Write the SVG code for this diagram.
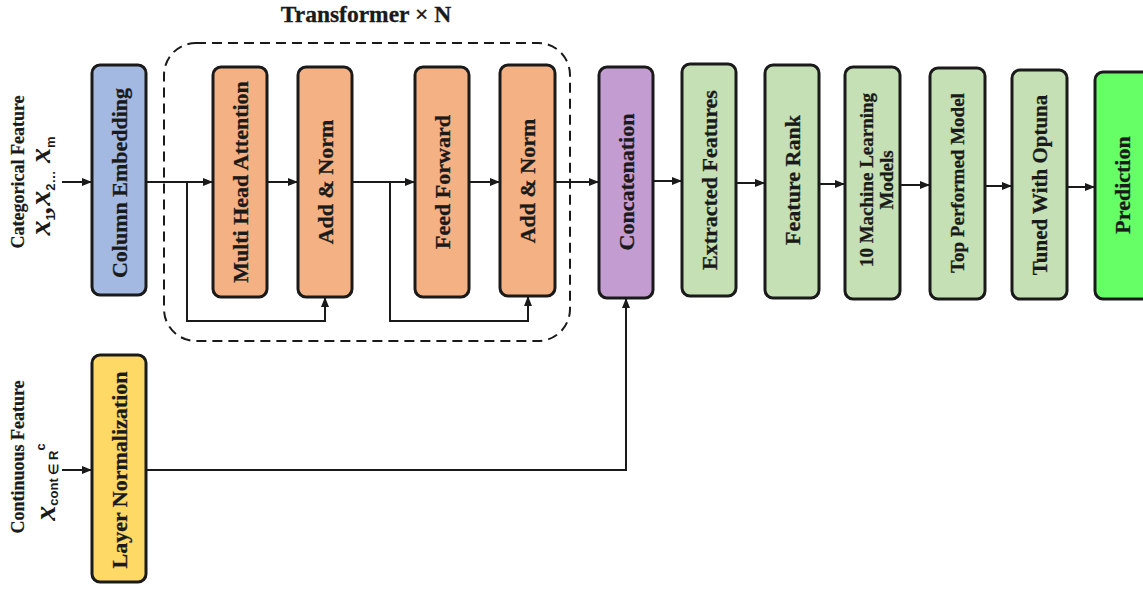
<svg xmlns="http://www.w3.org/2000/svg" width="1143" height="590" viewBox="0 0 1143 590">
<defs>
<style>
.box{stroke:#1a1a1a;stroke-width:3}
.blue{fill:#a3b9e2}.orange{fill:#f4b183}.purple{fill:#c39dd1}.green{fill:#c5e0b4}.yellow{fill:#ffd966}.bright{fill:#66ff66}
.t{font-family:"Liberation Serif","Times New Roman",serif;font-weight:bold;font-size:22px;fill:#1a1a1a;stroke:#1a1a1a;stroke-width:0.3;text-anchor:middle}
.lbl{font-family:"Liberation Serif","Times New Roman",serif;font-weight:bold;font-size:18px;fill:#1a1a1a;stroke:#1a1a1a;stroke-width:0.2;text-anchor:middle}
.mx{font-family:"Liberation Serif","Times New Roman",serif;font-weight:bold;font-style:italic;font-size:30px;fill:#1a1a1a}
.sb{font-family:"Liberation Sans",Arial,sans-serif;font-weight:bold;font-size:13px;fill:#1a1a1a;font-style:normal}
.ln{fill:none;stroke:#1a1a1a;stroke-width:2}
</style>
<marker id="ah" markerWidth="10" markerHeight="8" refX="9" refY="4" orient="auto" markerUnits="userSpaceOnUse">
<path d="M0,0 L10,4 L0,8 Z" fill="#1a1a1a"/>
</marker>
</defs>
<rect width="1143" height="590" fill="#ffffff"/>

<g id="transformer">
<rect x="164" y="43" width="406" height="298" rx="32" fill="none" stroke="#1a1a1a" stroke-width="2" stroke-dasharray="10 6"/>
<text x="366" y="22" class="t" style="font-size:23.5px">Transformer × N</text>
</g>

<g id="connectors">
<path class="ln" d="M62,182 H91" marker-end="url(#ah)"/>
<path class="ln" d="M62,470 H91" marker-end="url(#ah)"/>
<path class="ln" d="M146,182 H212" marker-end="url(#ah)"/>
<path class="ln" d="M187,182 V321 H325 V298" marker-end="url(#ah)"/>
<path class="ln" d="M267,182 H297" marker-end="url(#ah)"/>
<path class="ln" d="M352,182 H414" marker-end="url(#ah)"/>
<path class="ln" d="M390,182 V321 H528 V297" marker-end="url(#ah)"/>
<path class="ln" d="M469,182 H499" marker-end="url(#ah)"/>
<path class="ln" d="M555,182 H598" marker-end="url(#ah)"/>
<path class="ln" d="M653,181 H681" marker-end="url(#ah)"/>
<path class="ln" d="M736,183 H764" marker-end="url(#ah)"/>
<path class="ln" d="M819,184 H844" marker-end="url(#ah)"/>
<path class="ln" d="M900,185 H929" marker-end="url(#ah)"/>
<path class="ln" d="M985,186 H1011" marker-end="url(#ah)"/>
<path class="ln" d="M1067,187 H1094" marker-end="url(#ah)"/>
<path class="ln" d="M146,470 H626 V299" marker-end="url(#ah)"/>
</g>

<g id="categorical-label">
<text class="lbl" transform="translate(24,172) rotate(-90)">Categorical Feature</text>
<text class="mx" text-anchor="middle" transform="translate(50,186) rotate(-90)">x<tspan class="sb" dy="5">1</tspan><tspan dy="-5">,x</tspan><tspan class="sb" dy="5">2…</tspan><tspan dy="-5"> x</tspan><tspan class="sb" dy="5">m</tspan></text>
</g>

<g id="continuous-label">
<text class="lbl" transform="translate(24,457) rotate(-90)">Continuous Feature</text>
<text class="mx" text-anchor="middle" transform="translate(55,482) rotate(-90)">x<tspan class="sb" dy="3">cont ∈ R</tspan><tspan class="sb" dy="-13">c</tspan></text>
</g>

<g id="column-embedding">
<rect class="box blue" x="92" y="65" width="54" height="230" rx="8"/>
<text class="t" transform="translate(119,183) rotate(-90)" dy="0.35em">Column Embedding</text>
</g>

<g id="layer-normalization">
<rect class="box yellow" x="92" y="355" width="54" height="227" rx="8"/>
<text class="t" transform="translate(119,470) rotate(-90)" dy="0.35em">Layer Normalization</text>
</g>

<g id="multi-head-attention">
<rect class="box orange" x="213" y="67" width="54" height="230" rx="8"/>
<text class="t" transform="translate(240,182) rotate(-90)" dy="0.35em">Multi Head Attention</text>
</g>

<g id="add-norm-1">
<rect class="box orange" x="298" y="67" width="54" height="230" rx="8"/>
<text class="t" transform="translate(325,182) rotate(-90)" dy="0.35em">Add &amp; Norm</text>
</g>

<g id="feed-forward">
<rect class="box orange" x="415" y="67" width="54" height="230" rx="8"/>
<text class="t" transform="translate(442,182) rotate(-90)" dy="0.35em">Feed Forward</text>
</g>

<g id="add-norm-2">
<rect class="box orange" x="500" y="65" width="55" height="231" rx="8"/>
<text class="t" transform="translate(527.5,181) rotate(-90)" dy="0.35em">Add &amp; Norm</text>
</g>

<g id="concatenation">
<rect class="box purple" x="599" y="67" width="54" height="231" rx="8"/>
<text class="t" transform="translate(626,182) rotate(-90)" dy="0.35em">Concatenation</text>
</g>

<g id="extracted-features">
<rect class="box green" x="682" y="64" width="54" height="232" rx="8"/>
<text class="t" transform="translate(709,180) rotate(-90)" dy="0.35em">Extracted Features</text>
</g>

<g id="feature-rank">
<rect class="box green" x="765" y="65" width="54" height="233" rx="8"/>
<text class="t" transform="translate(792,180) rotate(-90)" dy="0.35em">Feature Rank</text>
</g>

<g id="ml-models">
<rect class="box green" x="845" y="67" width="55" height="232" rx="8"/>
<text class="t" style="font-size:19px" transform="translate(866,180) rotate(-90)" dy="0.35em">10 Machine Learning</text>
<text class="t" style="font-size:19px" transform="translate(886,180) rotate(-90)" dy="0.35em">Models</text>
</g>

<g id="top-performed-model">
<rect class="box green" x="930" y="68" width="55" height="231" rx="8"/>
<text class="t" style="font-size:19px" transform="translate(957.5,183) rotate(-90)" dy="0.35em">Top Performed Model</text>
</g>

<g id="tuned-optuna">
<rect class="box green" x="1012" y="70" width="55" height="229" rx="8"/>
<text class="t" style="font-size:21px" transform="translate(1039.5,185) rotate(-90)" dy="0.35em">Tuned With Optuna</text>
</g>

<g id="prediction">
<rect class="box bright" x="1095" y="72" width="58" height="227" rx="8"/>
<text class="t" transform="translate(1122.5,185) rotate(-90)" dy="0.35em">Prediction</text>
</g>
</svg>
